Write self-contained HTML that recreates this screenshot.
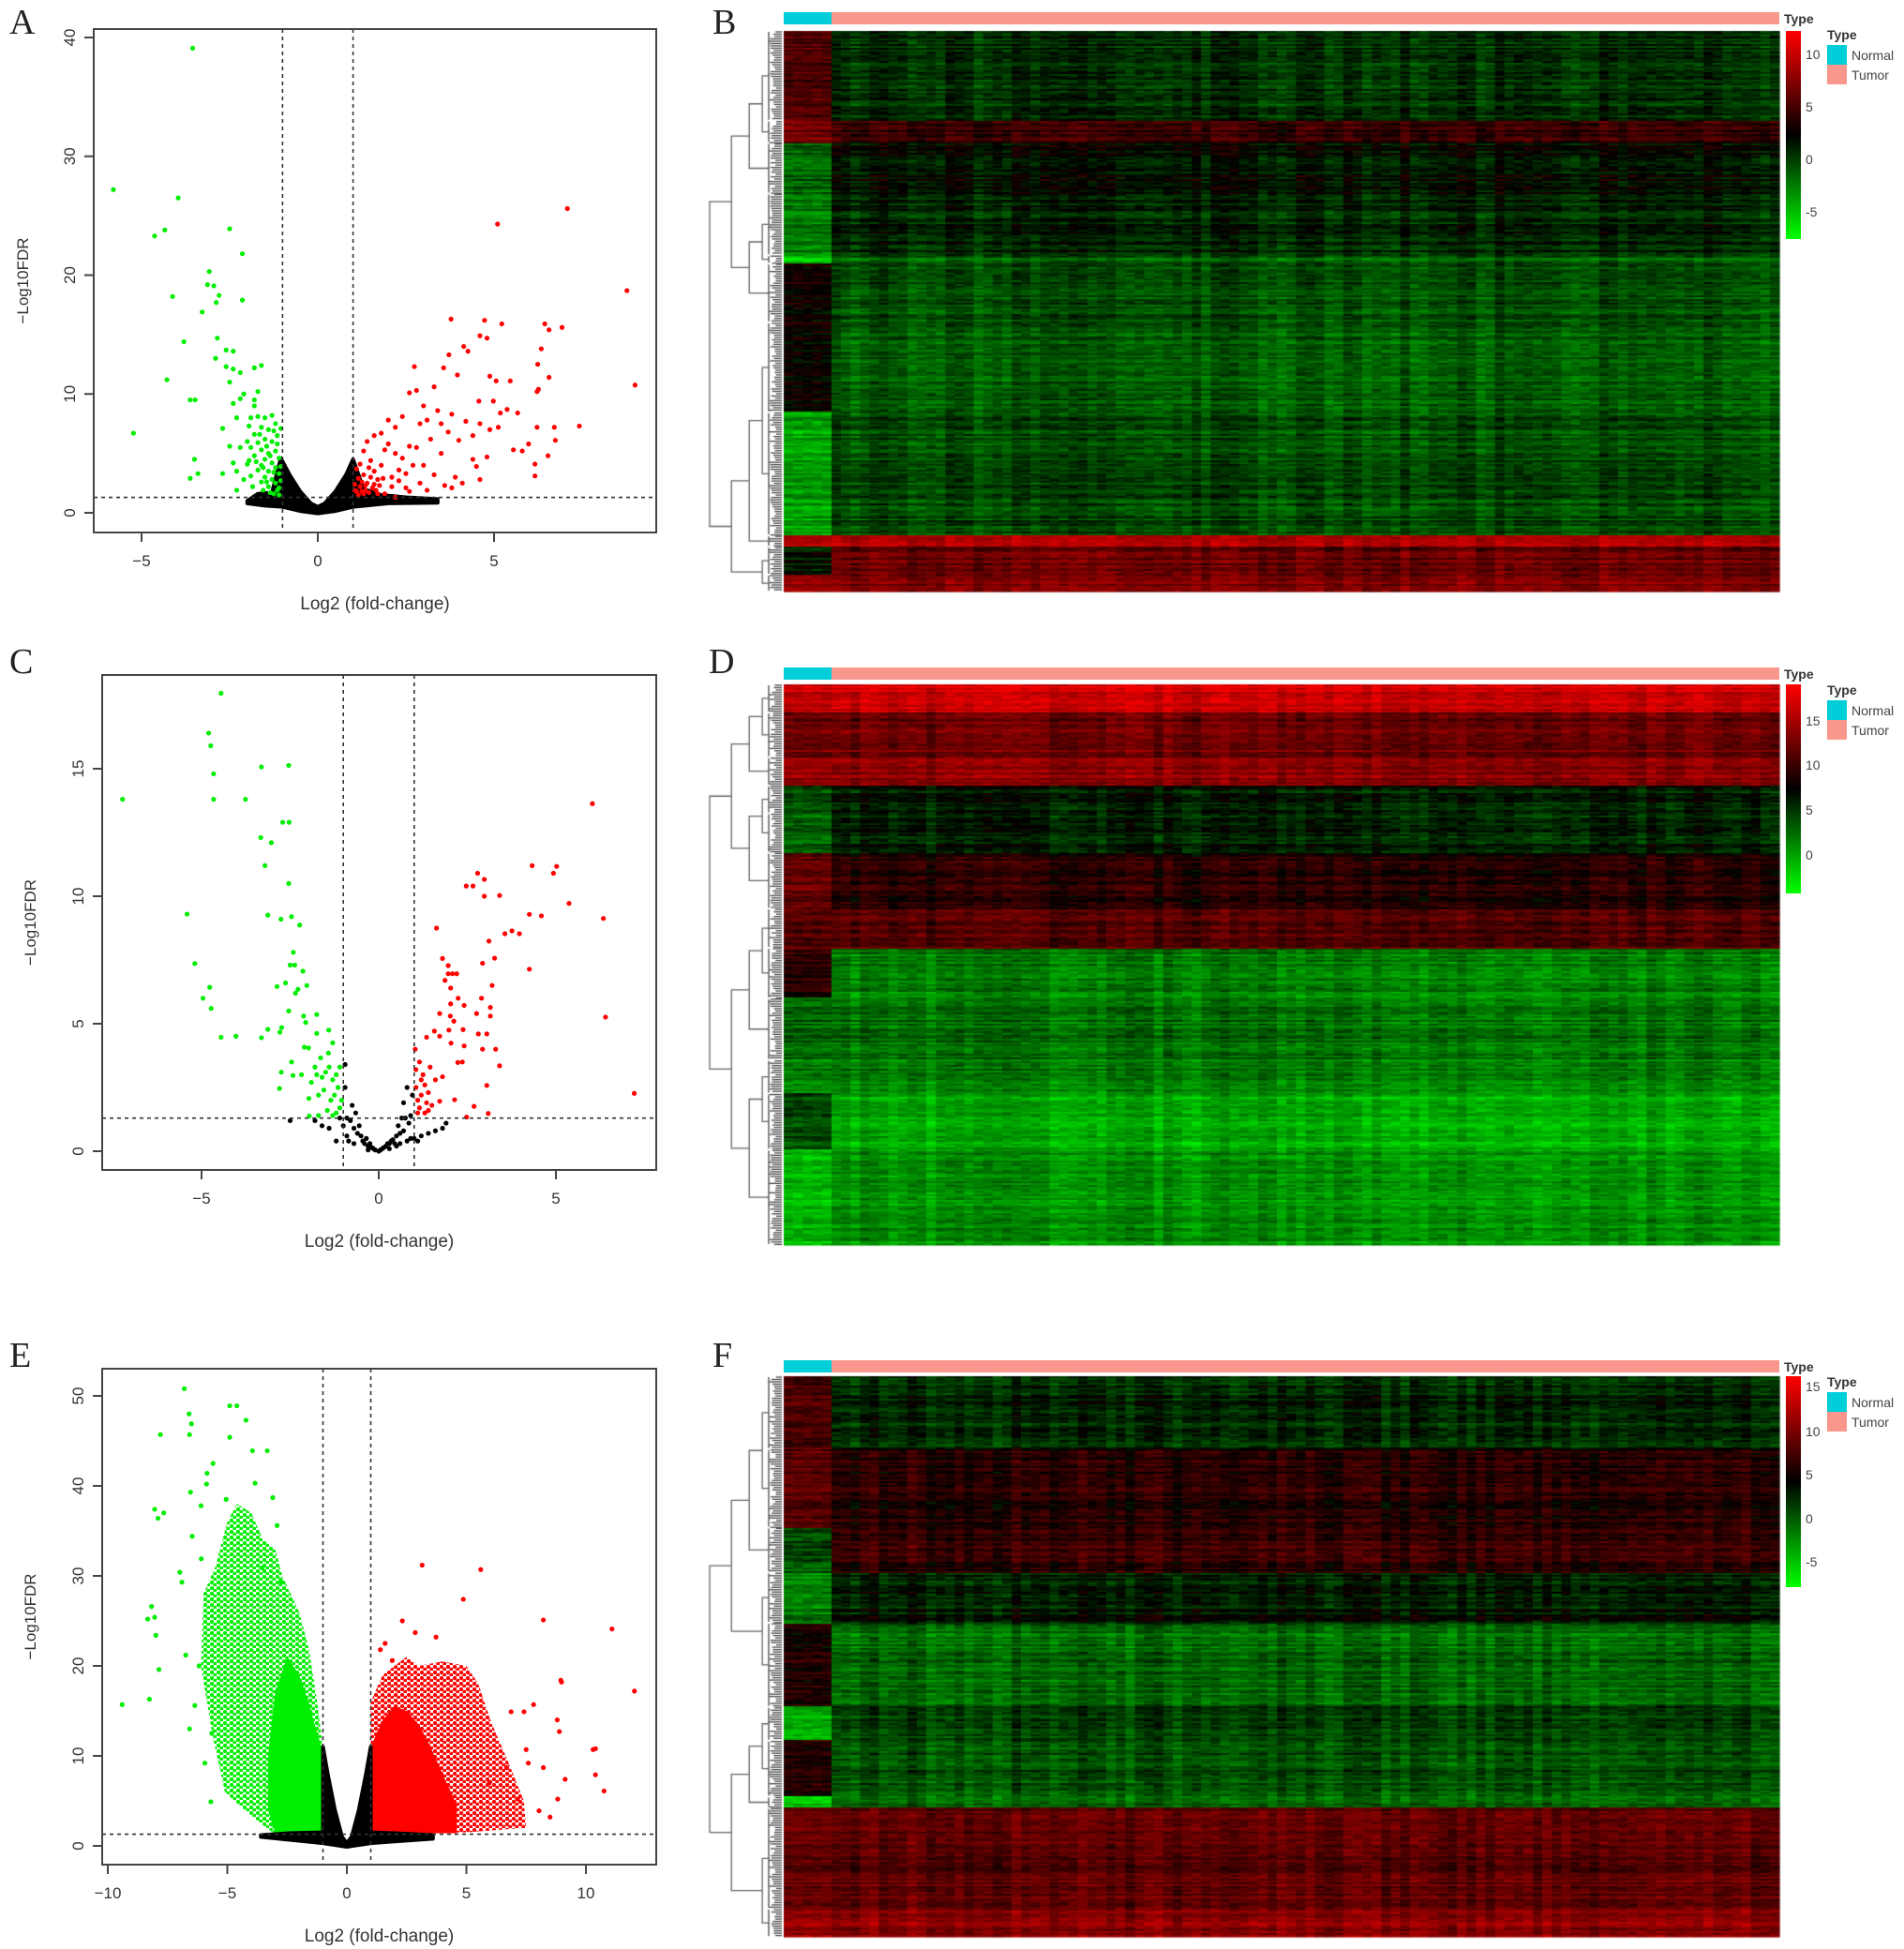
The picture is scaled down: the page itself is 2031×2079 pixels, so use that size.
<!DOCTYPE html>
<html><head><meta charset="utf-8">
<style>
html,body{margin:0;padding:0;background:#fff;}
#root{position:relative;width:2031px;height:2079px;overflow:hidden;font-family:"Liberation Sans",Arial,sans-serif;}
svg{position:absolute;left:0;top:0;}
canvas{position:absolute;}
.letter{position:absolute;font-family:"Liberation Serif",serif;font-size:38px;color:#222;}
</style></head>
<body>
<div id="root">
<svg id="volc" width="2031" height="2079"></svg>
<canvas id="hmB" width="2031" height="2079" style="left:0;top:0"></canvas>
<svg id="leg" width="2031" height="2079"></svg>
<div class="letter" style="left:10px;top:2px">A</div>
<div class="letter" style="left:760px;top:2px">B</div>
<div class="letter" style="left:10px;top:684px">C</div>
<div class="letter" style="left:756px;top:684px">D</div>
<div class="letter" style="left:10px;top:1424px">E</div>
<div class="letter" style="left:760px;top:1424px">F</div>
</div>
<script>
// ---------------- Volcano data ----------------
const aGreen=[[-5.8,27.2],[-3.55,39.1],[-3.96,26.5],[-4.63,23.3],[-4.34,23.8],[-2.5,23.9],[-2.14,21.8],[-3.08,20.3],[-3.13,19.2],[-2.95,19.1],[-2.8,18.3],[-4.12,18.2],[-2.14,17.9],[-2.88,17.7],[-3.28,16.9],[-2.85,14.7],[-3.8,14.4],[-5.23,6.7],[-4.28,11.2],[-3.62,9.5],[-3.48,9.5],[-3.5,4.5],[-3.4,3.3],[-3.62,2.9],
[-1.9,8],[-1.7,8.1],[-1.5,8],[-1.3,8.2],[-1.2,7.5],[-1.6,7.2],[-1.4,7],[-1.8,6.6],[-1.5,6.2],[-1.3,6],[-1.15,6.5],[-1.7,5.9],[-1.9,5.5],[-1.6,5.3],[-1.4,5.0],[-1.2,5.2],[-1.1,4.6],[-1.8,4.8],[-1.5,4.5],[-1.3,4.2],[-1.6,4.0],[-1.2,3.8],[-1.4,3.5],[-1.1,3.3],[-1.7,3.6],[-1.5,3.0],[-1.3,2.8],[-1.2,2.5],[-1.1,2.1],[-1.4,2.2],[-1.6,2.6],[-1.9,3.1],[-2.1,2.8],[-2.3,3.5],[-2.4,4.2],[-2.2,5.5],[-2.5,5.6],[-2.0,6.0],[-2.7,7.1],[-2.3,8.0],[-2.4,9.2],[-2.2,9.6],[-1.8,9.5],[-1.7,10.2],[-1.8,9.0],[-2.1,10],[-2.5,11],[-2.9,13],[-2.6,12.3],[-2.4,12.1],[-1.6,12.4],[-1.8,12.2],[-2.6,13.7],[-2.4,13.6],[-2.2,11.8],[-2.7,3.3],[-2.3,1.9],[-2.0,4.1],[-1.25,1.6],[-1.1,1.5],[-1.05,3.9],[-1.05,2.7],[-1.15,1.9],[-1.35,1.7],[-1.45,2.6],[-1.25,3.4],[-1.55,3.8],[-1.35,4.8],[-1.75,4.3],[-1.15,5.8],[-1.45,5.6],[-1.65,6.6],[-1.05,7.1],[-1.25,6.9],[-1.95,7.3],[-1.55,1.9],[-1.85,2.2],[-1.95,4.4]];
const aRed=[[7.08,25.6],[5.1,24.3],[8.77,18.7],[9.0,10.75],[3.78,16.3],[4.73,16.2],[5.22,15.9],[6.44,15.9],[6.93,15.6],[6.56,15.4],[4.6,14.9],[4.8,14.7],[4.14,14],[4.26,13.6],[6.34,13.8],[3.72,13.3],[3.57,12.2],[3.96,11.6],[6.24,12.5],[2.74,12.3],[4.88,11.5],[5.06,11.1],[5.46,11.1],[6.56,11.4],[6.26,10.4],[6.22,10.2],[7.42,7.3],[6.74,6.1],[6.53,4.8],[6.16,4.1],[6.16,3.1],[5.98,5.8],[5.8,5.2],[5.55,5.3],[6.22,7.2],[6.71,7.2],[5.67,8.4],[5.37,8.7],[5.18,8.4],[5.12,7.2],[4.88,7.0],[4.98,9.4],[4.57,9.4],
[1.1,1.8],[1.2,2.2],[1.3,1.6],[1.4,2.5],[1.5,3.0],[1.6,3.5],[1.7,2.8],[1.8,4.0],[1.3,3.2],[1.2,4.1],[1.5,4.4],[1.9,5.3],[2.0,5.8],[2.2,5.0],[2.1,3.0],[2.3,3.6],[2.5,2.1],[2.4,4.6],[2.6,5.6],[2.7,4.0],[2.0,7.8],[2.2,7.2],[2.4,8.1],[2.6,10.1],[2.8,10.3],[3.0,9.0],[2.9,7.5],[3.1,7.8],[3.3,10.6],[3.4,8.6],[3.2,6.2],[3.5,7.5],[3.7,6.8],[3.8,8.3],[4.0,6.1],[4.2,7.7],[4.4,6.5],[4.6,7.5],[4.4,4.5],[4.5,3.9],[4.6,2.8],[4.8,4.7],[3.0,4.0],[3.3,3.2],[3.6,2.3],[3.9,3.0],[2.9,2.5],[2.8,5.5],[3.5,5.0],[4.1,2.5],[1.9,1.6],[2.2,1.3],[2.6,1.8],[1.6,6.5],[1.4,6.0],[1.3,5.2],[1.1,3.7],[1.8,6.7],[2.1,2.2],[3.1,1.9],[3.8,2.1],[2.5,3.3],[2.3,2.7],[1.15,1.5],[1.25,2.6],[1.35,1.9],[1.45,1.7],[1.55,2.1],[1.05,2.4],[1.65,1.9],[1.75,2.3],[1.15,2.9],[1.35,2.3],[1.25,1.8],[1.45,3.8],[1.6,2.4],[1.7,1.6],[1.05,1.9],[1.85,2.9]];
const aBlackTop=[[-2.0,1.0],[-1.7,1.6],[-1.3,1.7],[-1.05,4.6],[-0.8,3.2],[-0.5,1.8],[-0.2,0.8],[0,0.5],[0.2,0.8],[0.5,1.8],[0.8,3.2],[1.0,4.5],[1.3,2.0],[1.8,1.5],[2.5,1.3],[3.4,1.15]];
const aBlackBot=[[3.4,0.85],[2.0,0.8],[1.0,0.5],[0.5,0.15],[0,-0.05],[-0.5,0.15],[-1.0,0.5],[-1.5,0.6],[-2.0,0.8]];

const cGreen=[[-7.23,13.8],[-4.45,17.96],[-4.8,16.4],[-4.74,15.9],[-4.66,14.8],[-4.66,13.8],[-3.31,15.07],[-2.54,15.13],[-3.76,13.8],[-2.71,12.9],[-2.53,12.9],[-3.33,12.3],[-3.03,12.1],[-3.21,11.2],[-2.54,10.5],[-5.41,9.3],[-3.13,9.26],[-2.76,9.1],[-2.46,9.2],[-2.23,8.87],[-2.41,7.8],[-5.19,7.36],[-2.5,7.3],[-2.37,7.3],[-2.14,7.06],[-4.77,6.43],[-2.63,6.6],[-2.87,6.46],[-2.03,6.5],[-2.28,6.35],[-4.96,6.0],[-2.35,6.2],[-4.73,5.6],[-2.54,5.5],[-2.12,5.3],[-1.75,5.36],[-2.06,5.05],[-1.41,4.75],[-1.75,4.62],[-2.74,4.85],[-3.13,4.78],[-4.45,4.47],[-4.03,4.51],[-3.31,4.45],[-2.79,4.67],[-1.3,4.25],[-2.1,4.08],[-1.98,4.05],[-1.42,3.85],[-1.64,3.66],[-2.46,3.5],[-2.75,3.1],[-2.42,2.97],[-2.18,3.0],[-2.8,2.46],[-1.97,2.07],[-1.96,1.38],
[-1.1,3.3],[-1.2,3.0],[-1.3,2.8],[-1.4,3.3],[-1.5,3.1],[-1.6,2.9],[-1.15,2.5],[-1.25,2.2],[-1.35,2.0],[-1.1,1.7],[-1.2,1.5],[-1.45,1.6],[-1.55,2.4],[-1.7,2.2],[-1.8,3.3],[-1.9,2.7],[-1.05,2.0],[-1.3,1.4],[-1.7,1.4],[-1.75,3.0]];
const cRed=[[6.03,13.63],[4.33,11.2],[5.02,11.17],[4.93,10.9],[2.79,10.9],[2.98,10.66],[2.47,10.4],[2.66,10.4],[2.98,10.0],[3.41,10.03],[5.37,9.72],[6.34,9.13],[4.25,9.29],[4.59,9.23],[3.56,8.53],[3.76,8.64],[3.97,8.53],[1.63,8.75],[3.11,8.24],[3.27,7.57],[1.8,7.56],[1.96,7.28],[2.93,7.37],[4.25,7.14],[1.96,6.96],[2.08,6.96],[2.2,6.96],[1.87,6.7],[2.03,6.4],[3.2,6.5],[2.24,6.0],[2.9,6.0],[2.03,5.78],[2.41,5.72],[3.15,5.64],[6.4,5.26],[1.72,5.4],[2.76,5.4],[3.15,5.3],[2.02,5.3],[2.12,5.1],[2.38,4.77],[1.98,4.75],[1.57,4.71],[1.72,4.51],[2.81,4.6],[3.05,4.6],[1.35,4.47],[2.04,4.24],[1.03,4.0],[2.41,4.13],[2.93,4.0],[3.3,4.0],[3.41,3.35],[2.36,3.5],[2.23,3.48],[3.05,2.58],[3.09,1.48],[2.69,1.76],[1.72,1.96],[2.14,2.02],[1.8,2.92],[7.21,2.27],[2.48,1.34],
[1.05,2.5],[1.1,2.0],[1.15,1.7],[1.2,2.2],[1.25,3.0],[1.3,2.6],[1.35,1.9],[1.4,2.3],[1.45,3.3],[1.15,3.5],[1.1,1.5],[1.3,1.5],[1.5,1.8],[1.6,2.8],[1.05,3.2],[1.4,1.6],[1.2,2.8]];
const cBlack=[[-2.5,1.2],[-1.8,1.2],[-1.6,1.0],[-1.4,0.9],[-0.95,3.4],[-0.95,2.5],[-0.9,1.3],[-0.8,1.2],[-0.75,1.8],[-0.7,0.9],[-0.65,1.5],[-0.6,0.7],[-0.55,1.0],[-0.5,0.6],[-0.45,0.4],[-0.4,0.3],[-0.35,0.5],[-0.3,0.2],[-0.25,0.3],[-0.2,0.15],[-0.15,0.1],[-0.1,0.05],[0,0],[0.05,0.05],[0.1,0.1],[0.15,0.15],[0.2,0.2],[0.25,0.3],[0.3,0.3],[0.35,0.4],[0.4,0.45],[0.45,0.3],[0.5,0.6],[0.55,1.0],[0.6,0.7],[0.65,1.3],[0.7,0.8],[0.75,1.3],[0.8,2.5],[0.85,1.1],[0.9,0.5],[0.95,2.2],[1.0,0.5],[1.2,0.6],[1.4,0.7],[1.6,0.8],[1.8,0.9],[1.9,1.1],[-1.2,0.4],[-0.9,0.6],[-1.0,1.0],[0.3,0.1],[-0.3,0.05],[0.6,0.3],[0.8,0.4],[0.7,1.9],[0.9,1.4],[-0.85,0.4],[-0.7,0.3],[0.5,0.2],[1.1,0.4],[-1.1,1.3]];

const eGreen=[[-6.8,50.8],[-6.6,48],[-6.5,46.9],[-6.58,45.7],[-7.8,45.7],[-4.9,48.9],[-4.6,48.9],[-4.22,47.3],[-4.9,45.4],[-3.95,43.9],[-3.33,43.9],[-5.6,42.5],[-5.85,41.4],[-5.87,40.2],[-3.84,40.3],[-6.54,39.3],[-3.1,38.7],[-8.04,37.4],[-7.66,37.0],[-7.9,36.4],[-6.1,37.8],[-5.05,38.5],[-6.47,34.4],[-6.09,31.9],[-6.99,30.4],[-6.9,29.3],[-8.17,26.6],[-8.33,25.2],[-8.04,25.4],[-7.99,23.4],[-7.86,19.6],[-6.74,21.2],[-6.18,20],[-9.4,15.7],[-8.26,16.3],[-6.36,15.6],[-6.58,13],[-5.65,12.5],[-5.94,9.2],[-5.69,4.9],[-2.74,29.3],[-2.92,35.6],[-3.55,30.9]];
const eGreenCore=[[-1,1.4],[-1,10.5],[-1.3,13],[-1.6,16],[-2,19],[-2.5,21],[-3.0,17],[-3.3,10],[-3.3,4],[-3.0,1.4]];
const eGreenHalo=[[-1,1.5],[-1,11],[-1.3,17],[-1.6,22],[-2,26],[-2.7,30],[-3,33],[-3.5,34],[-4,37],[-4.6,38],[-5,36],[-5.5,31],[-6,28],[-6.1,20],[-5.6,12],[-5.1,6],[-4.5,4.5],[-3.6,2.5],[-3.1,1.5]];
const eRed=[[3.15,31.2],[5.6,30.7],[4.87,27.4],[8.22,25.1],[11.09,24.1],[2.32,25],[2.86,23.7],[3.73,23.2],[12.03,17.2],[8.95,18.4],[8.98,18.2],[7.81,15.7],[8.8,14],[8.89,12.7],[10.3,10.7],[10.4,10.8],[10.4,7.9],[10.76,6.1],[9.13,7.4],[8.82,5.2],[8.5,3.2],[8.22,8.7],[7.5,10.7],[7.59,9.2],[6.87,14.9],[7.41,14.9],[8.04,3.9],[5.96,7],[6.68,8.7],[7.14,5.2],[1.6,22.5],[1.9,20.6],[1.4,21.8]];
const eRedCore=[[1,1.4],[1,11],[1.5,14],[2,15.5],[2.5,15],[3,13.5],[3.5,11],[4,8],[4.6,4.5],[4.6,1.4]];
const eRedHalo=[[1,1.5],[1,16],[1.5,19],[2.5,21],[3,20],[4,20.5],[5,20],[5.5,18],[6,14],[6.8,9],[7.4,5],[7.5,2],[5,1.5]];
const eBlack=[[-3.6,1.2],[-2.5,1.4],[-1,1.5],[-1,11],[-0.8,8],[-0.5,4],[-0.2,1],[0,0.3],[0.2,1],[0.5,4],[0.8,8],[1,11],[1,1.5],[2,1.4],[3.6,1.2],[3.6,0.8],[2,0.5],[1,0.3],[0,-0.1],[-1,0.3],[-2.5,0.7],[-3.6,1.0]];

const aXTicks=[-5,0,5], aYTicks=[0,10,20,30,40];
const cXTicks=[-5,0,5], cYTicks=[0,5,10,15];
const eXTicks=[-10,-5,0,5,10], eYTicks=[0,10,20,30,40,50];

// ---------------- Heatmap band data: [start, end, normal, tumor] (fractions, value -1..1)
const bBands=[[0,0.16,0.3,-0.2],[0.16,0.2,0.45,0.2],[0.2,0.29,-0.4,-0.05],[0.29,0.40,-0.5,-0.15],[0.40,0.415,-0.85,-0.4],[0.415,0.52,0.05,-0.3],[0.52,0.68,0.05,-0.35],[0.68,0.9,-0.65,-0.3],[0.9,0.92,0.75,0.75],[0.92,0.97,-0.1,0.4],[0.97,1,0.6,0.5]];
const dBands=[[0,0.05,0.8,0.85],[0.05,0.13,0.45,0.45],[0.13,0.18,0.6,0.55],[0.18,0.23,-0.3,-0.12],[0.23,0.3,-0.4,-0.15],[0.3,0.4,0.4,0.15],[0.4,0.47,0.3,0.3],[0.47,0.56,0.2,-0.5],[0.56,0.67,-0.4,-0.45],[0.67,0.73,-0.5,-0.5],[0.73,0.83,-0.3,-0.7],[0.83,1,-0.75,-0.6]];
const fBands=[[0,0.13,0.3,-0.15],[0.13,0.27,0.35,0.15],[0.27,0.35,-0.3,0.2],[0.35,0.44,-0.5,-0.1],[0.44,0.59,0.1,-0.42],[0.59,0.65,-0.7,-0.25],[0.65,0.75,0.15,-0.32],[0.75,0.77,-0.85,-0.45],[0.77,0.95,0.42,0.38],[0.95,1,0.6,0.55]];

// ---------------- Volcano rendering ----------------
const NS="http://www.w3.org/2000/svg";
const V=document.getElementById('volc');
function mk(tag,attrs,parent){const e=document.createElementNS(NS,tag);for(const k in attrs)e.setAttribute(k,attrs[k]);(parent||V).appendChild(e);return e;}
const defs=mk('defs',{});
function pattern(id,color){const p=mk('pattern',{id:id,width:7,height:6,patternUnits:'userSpaceOnUse'},defs);mk('circle',{cx:2,cy:2,r:2.2,fill:color},p);mk('circle',{cx:5.5,cy:5,r:2.2,fill:color},p);}
pattern('pg','#00ee00');pattern('pr','#ff0000');

function volcano(cfg){
  const g=mk('g',{});
  
  
  const [L,T,R,B]=cfg.box;
  const sx=v=>cfg.x0px+(v)*cfg.xs, sy=v=>cfg.y0px-v*cfg.ys;
  const poly=(pts,fill)=>{const p=mk('polygon',{points:pts.map(q=>sx(q[0])+','+sy(q[1])).join(' '),fill:fill,'stroke-linejoin':'round'},g);return p;};
  if(cfg.halos){cfg.halos.forEach(h=>{const p=poly(h[0],h[1]);});}
  if(cfg.blackPoly){const p=poly(cfg.blackPoly,'#000');p.setAttribute('stroke','#000');p.setAttribute('stroke-width','4');}
  const dots=(arr,col,nm)=>arr.forEach(q=>{const c=mk('circle',{cx:sx(q[0]),cy:sy(q[1]),r:2.6,fill:col},g);});
  if(cfg.black)dots(cfg.black,'#000','nonsignificant-point');
  dots(cfg.green,'#00ee00','down-regulated-point');
  dots(cfg.red,'#ff0000','up-regulated-point');
  const dash={stroke:'#333','stroke-width':1.6,'stroke-dasharray':'4,4'};
  [-1,1].forEach(v=>{const l=mk('line',Object.assign({x1:sx(v),x2:sx(v),y1:T,y2:B},dash),g);});
  const hl=mk('line',Object.assign({x1:L,x2:R,y1:sy(1.3),y2:sy(1.3)},dash),g);
  
  const bx=mk('rect',{x:L,y:T,width:R-L,height:B-T,fill:'none',stroke:'#444','stroke-width':2},g);
  
  const xa=mk('g',{},g);
  mk('line',{x1:sx(cfg.xt[0]),x2:sx(cfg.xt[cfg.xt.length-1]),y1:B,y2:B,stroke:'#444','stroke-width':2},xa);
  cfg.xt.forEach(t=>{mk('line',{x1:sx(t),x2:sx(t),y1:B,y2:B+10,stroke:'#444','stroke-width':2},xa);
    const tx=mk('text',{x:sx(t),y:B+36,'text-anchor':'middle','font-size':17,fill:'#333'},xa);tx.textContent=(t<0?'\u2212':'')+Math.abs(t);
    });
  const ya=mk('g',{},g);
  mk('line',{x1:L,x2:L,y1:sy(cfg.yt[0]),y2:sy(cfg.yt[cfg.yt.length-1]),stroke:'#444','stroke-width':2},ya);
  cfg.yt.forEach(t=>{mk('line',{x1:L-10,x2:L,y1:sy(t),y2:sy(t),stroke:'#444','stroke-width':2},ya);
    const tx=mk('text',{x:L-20,y:sy(t),'text-anchor':'middle','font-size':17,fill:'#333',transform:`rotate(-90 ${L-20} ${sy(t)})`},ya);tx.textContent=t;
    });
  const xt=mk('text',{x:(L+R)/2,y:B+82,'text-anchor':'middle','font-size':19,fill:'#333'},g);xt.textContent='Log2 (fold-change)';
  
  const yx=cfg.ytx, yy=(T+B)/2;
  const yt=mk('text',{x:yx,y:yy,'text-anchor':'middle','font-size':17,fill:'#333',transform:`rotate(-90 ${yx} ${yy})`},g);yt.textContent='\u2212Log10FDR';
  
}
volcano({name:'volcano-a',box:[100,31,700,568],x0px:339,xs:37.6,y0px:547,ys:12.675,xt:aXTicks,yt:aYTicks,green:aGreen,red:aRed,blackPoly:aBlackTop.concat(aBlackBot),ytx:30});
volcano({name:'volcano-c',box:[109,720,700,1248],x0px:404,xs:37.8,y0px:1228,ys:27.2,xt:cXTicks,yt:cYTicks,green:cGreen,red:cRed,black:cBlack,ytx:38});
volcano({name:'volcano-e',box:[109,1460,700,1989],x0px:370,xs:25.5,y0px:1969,ys:9.6,xt:eXTicks,yt:eYTicks,green:eGreen,red:eRed,
  halos:[[eGreenHalo,'url(#pg)'],[eRedHalo,'url(#pr)'],[eGreenCore,'#00ee00'],[eRedCore,'#ff0000']],blackPoly:eBlack,ytx:38});

// ---------------- Heatmaps ----------------
const cv=document.getElementById('hmB');const ctx=cv.getContext('2d');
function hash(a,b,s){let h=(a*374761393+b*668265263+s*2147483647)|0;h=(h^(h>>>13))*1274126177|0;h=h^(h>>>16);return ((h>>>0)%10000)/10000;}
function col(v){v=Math.max(-1,Math.min(1,v));return v>=0?`rgb(${Math.round(v*245)},0,0)`:`rgb(0,${Math.round(-v*245)},0)`;}
function heatmap(bands,x0,xn,x1,y0,y1,seed,dendroL){
  const rows=Math.round((y1-y0)/2), H=(y1-y0)/rows;
  const nN=5, nT=100, wN=(xn-x0)/nN, wT=(x1-xn)/nT;
  for(let r=0;r<rows;r++){
    const f=(r+0.5)/rows; const b=bands.find(q=>f>=q[0]&&f<q[1])||bands[bands.length-1];
    const rn=(hash(r,7,seed)-0.5)*0.24;
    for(let c=0;c<nN+nT;c++){
      const isN=c<nN; const base=isN?b[2]:b[3];
      const cn=(hash(99,c,seed)-0.5)*0.2;
      const v=base+rn*(isN?1.2:1)+(hash(r,c,seed)-0.5)*0.2+(isN?0:cn);
      ctx.fillStyle=col(v);
      const x=isN?x0+c*wN:xn+(c-nN)*wT, w=isN?wN:wT;
      ctx.fillRect(x,y0+r*H,w+0.6,H+0.6);
    }
  }
  ctx.lineWidth=1.3;
  const xR=x0-2, leafX=x0-16;
  bands.forEach((b,i)=>{const ya=y0+b[0]*(y1-y0), yb=y0+b[1]*(y1-y0);
    ctx.strokeStyle='#444';
    for(let y=ya+1;y<yb;y+=2.5){ctx.beginPath();ctx.moveTo(leafX+hash(i,Math.round(y),seed)*8,y);ctx.lineTo(xR,y);ctx.stroke();}
    ctx.beginPath();ctx.moveTo(leafX,ya+1);ctx.lineTo(leafX,yb-1);ctx.stroke();});
  ctx.strokeStyle='#666';
  function build(lo,hi){
    if(lo===hi){const b=bands[lo];return {y:y0+(b[0]+b[1])/2*(y1-y0),x:leafX,h:0};}
    const m=Math.floor((lo+hi)/2);const a=build(lo,m),c=build(m+1,hi);
    const h=Math.max(a.h,c.h)+1;return {a,c,h,y:(a.y+c.y)/2};
  }
  const root=build(0,bands.length-1);
  const maxH=root.h;
  function draw(n){ if(!n.a)return n.x;
    const xa=draw(n.a), xc=draw(n.c);
    const x=leafX-(leafX-dendroL)*Math.pow(n.h/maxH,1.6);
    ctx.beginPath();ctx.moveTo(xa,n.a.y);ctx.lineTo(x,n.a.y);ctx.lineTo(x,n.c.y);ctx.lineTo(xc,n.c.y);ctx.stroke();
    n.x=x;return x;}
  draw(root);
}
heatmap(bBands,836,887,1898,33,631,11,757);
heatmap(dBands,836,887,1898,730,1328,23,757);
heatmap(fBands,836,887,1898,1468,2066,37,757);

// ---------------- Annotation bars, colorbars, legends ----------------
const G=document.getElementById('leg');
function mkL(tag,attrs,parent){const e=document.createElementNS(NS,tag);for(const k in attrs)e.setAttribute(k,attrs[k]);(parent||G).appendChild(e);return e;}
const ld=mkL('defs',{});
const gr=mkL('linearGradient',{id:'cb',x1:0,y1:0,x2:0,y2:1},ld);
[['0','#ff0000'],['0.5','#000000'],['1','#00ff00']].forEach(s=>mkL('stop',{offset:s[0],'stop-color':s[1]},gr));
const bTicks=['10','5','0','-5'], bTickY=[58,114,170,226];
const dTicks=['15','10','5','0'], dTickY=[769,816,864,912];
const fTicks=['15','10','5','0','-5'], fTickY=[1479,1527,1573,1620,1666];
function annot(name,barY,cbT,cbB,ticks,tickY,legY){
  const g=mkL('g',{});
  const n=mkL('rect',{x:836,y:barY,width:51,height:13,fill:'#00ced9'},g);
  const t=mkL('rect',{x:887,y:barY,width:1011,height:13,fill:'#f9978c'},g);
  const tl=mkL('text',{x:1903,y:barY+12,'font-size':14,'font-weight':'bold',fill:'#333'},g);tl.textContent='Type';
  
  const cb=mkL('rect',{x:1905,y:cbT,width:16,height:cbB-cbT,fill:'url(#cb)'},g);
  ticks.forEach((s,i)=>{const e=mkL('text',{x:1926,y:tickY[i]+5,'font-size':14,fill:'#444'},g);e.textContent=s;});
  const lt=mkL('text',{x:1949,y:legY,'font-size':14,'font-weight':'bold',fill:'#333'},g);lt.textContent='Type';
  
  const s1=mkL('rect',{x:1949,y:legY+6,width:21,height:21,fill:'#00ced9'},g);
  const s2=mkL('rect',{x:1949,y:legY+27,width:21,height:21,fill:'#f9978c'},g);
  const t1=mkL('text',{x:1975,y:legY+22,'font-size':14,fill:'#444'},g);t1.textContent='Normal';
  const t2=mkL('text',{x:1975,y:legY+43,'font-size':14,fill:'#444'},g);t2.textContent='Tumor';
}
annot('heatmap-b-annotations',13,33,255,bTicks,bTickY,42);
annot('heatmap-d-annotations',712,730,953,dTicks,dTickY,741);
annot('heatmap-f-annotations',1451,1468,1693,fTicks,fTickY,1479);
</script>
</body></html>
